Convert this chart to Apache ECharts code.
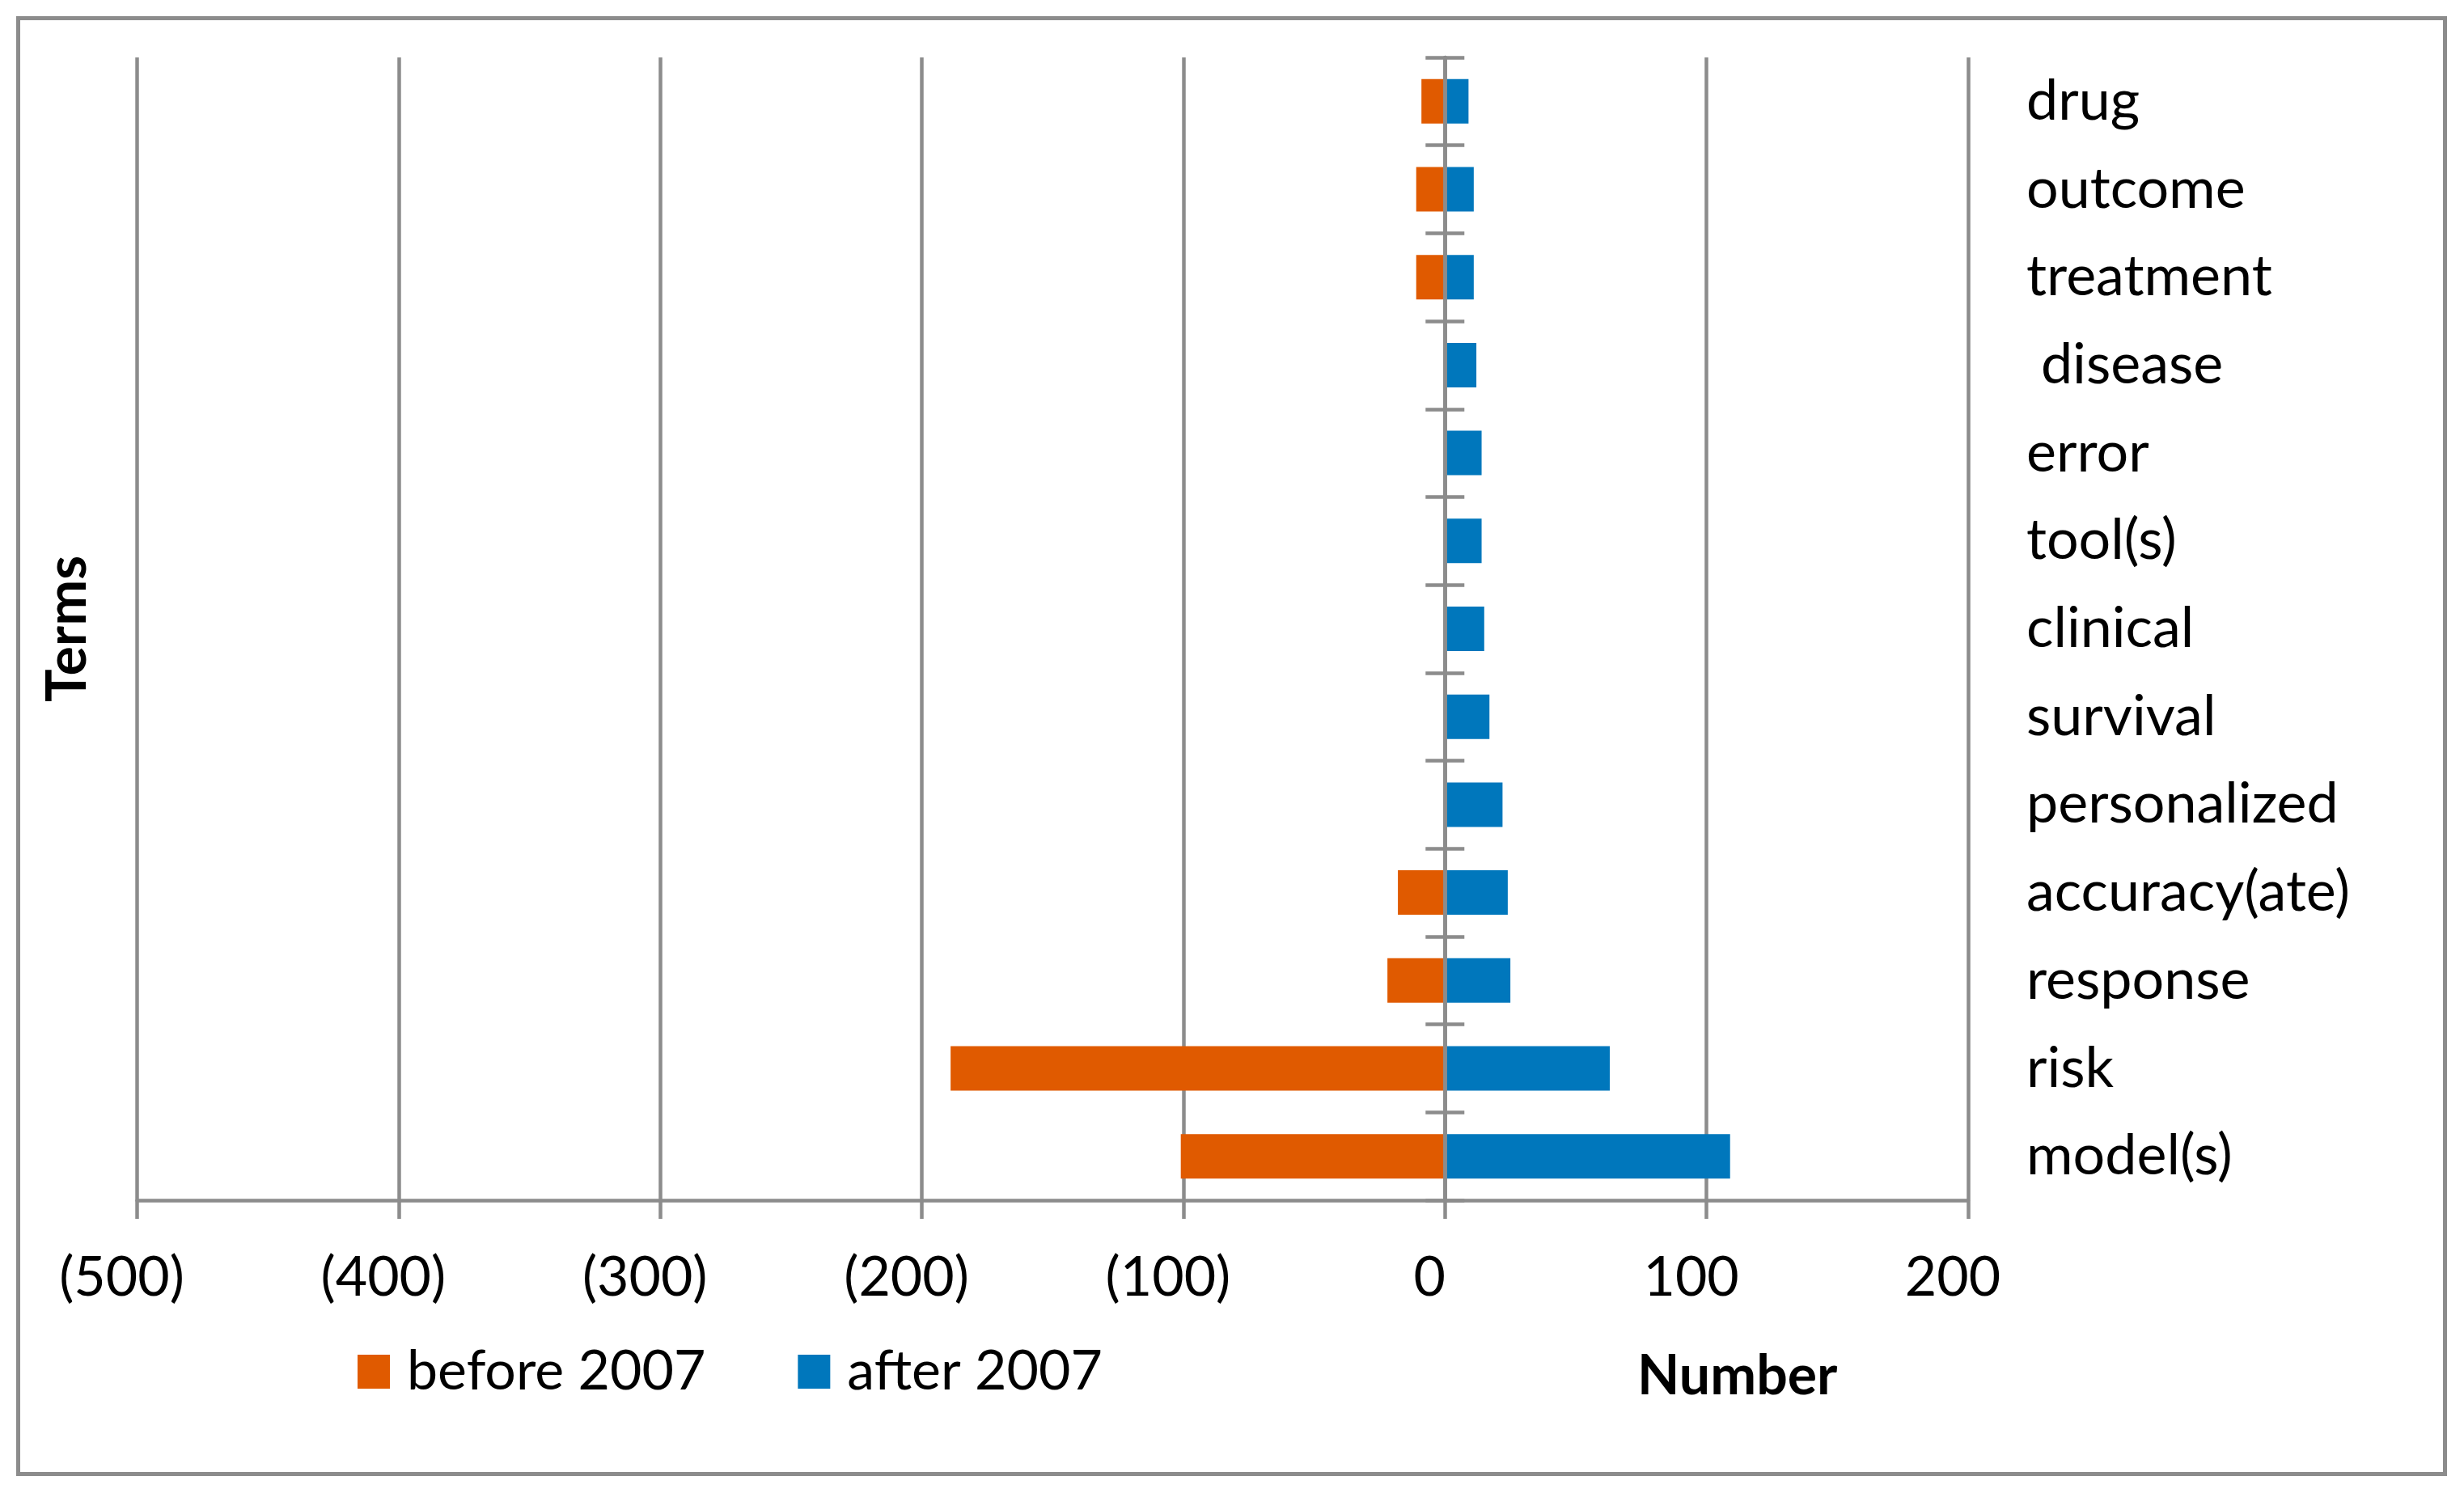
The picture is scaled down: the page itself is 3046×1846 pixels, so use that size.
<!DOCTYPE html>
<html>
<head>
<meta charset="utf-8">
<script src="https://cdn.jsdelivr.net/npm/echarts@6/dist/echarts.min.js"></script>
<style>
  html, body { margin: 0; padding: 0; background: #ffffff; }
  #chart { width: 3046px; height: 1846px; }
</style>
</head>
<body>
<div id="chart"></div>
<script>
// Terms listed top to bottom
const terms = ['drug', 'outcome', 'treatment', ' disease', 'error', 'tool(s)', 'clinical', 'survival', 'personalized', 'accuracy(ate)', 'response', 'risk', 'model(s)'];
const before2007 = [-9, -11, -11, 0, 0, 0, 0, 0, 0, -18, -22, -189, -101];
const after2007 = [9, 11, 11, 12, 14, 14, 15, 17, 22, 24, 25, 63, 109];
const xTicks = { min: -500, max: 200, step: 100 };

const GRAY = '#8c8c8c';
const FONT = 'Lato';

const chart = echarts.init(document.getElementById('chart'), null, { renderer: 'canvas' });

const gridBox = { left: 169.5, right: 613, top: 71, bottom: 362, containLabel: false };

const option = {
  backgroundColor: '#ffffff',
  animation: false,
  textStyle: { fontFamily: FONT, color: '#000' },
  graphic: [{
    type: 'rect',
    shape: { x: 22.5, y: 22.5, width: 3000, height: 1800 },
    style: { fill: 'none', stroke: GRAY, lineWidth: 5 },
    silent: true
  }],
  grid: [Object.assign({}, gridBox), Object.assign({}, gridBox)],
  legend: {
    left: 437, top: 1657,
    icon: 'rect', itemWidth: 40, itemHeight: 42, itemGap: 114,
    textStyle: { fontSize: 68, color: '#000', fontFamily: FONT, padding: [0, 0, 0, 16] },
    data: ['before 2007', 'after 2007']
  },
  xAxis: [
    {
      type: 'value', gridIndex: 0,
      min: xTicks.min, max: xTicks.max, interval: xTicks.step,
      name: 'Number',
      nameLocation: 'middle',
      nameGap: 184,
      nameTextStyle: { fontSize: 68, fontWeight: 'bold', color: '#000', fontFamily: FONT, padding: [0, 0, 0, 1693] },
      axisLine: { show: true, lineStyle: { color: GRAY, width: 4.5 } },
      axisTick: { show: true, length: 23, lineStyle: { color: GRAY, width: 4.5 } },
      splitLine: { show: true, lineStyle: { color: GRAY, width: 4.5 } },
      axisLabel: {
        fontSize: 68, color: '#000', fontFamily: FONT, margin: 62,
        padding: [0, 38, 0, 0],
        formatter: v => v < 0 ? '(' + (-v) + ')' : String(v)
      }
    },
    {
      type: 'value', gridIndex: 1,
      min: xTicks.min, max: xTicks.max, interval: xTicks.step,
      axisLine: { show: false }, axisTick: { show: false },
      axisLabel: { show: false }, splitLine: { show: false }
    }
  ],
  yAxis: [
    {
      type: 'category', gridIndex: 0, data: terms, inverse: true, position: 'left', z: 10,
      axisLine: { show: true, onZero: true, lineStyle: { color: GRAY, width: 4.5 } },
      axisTick: { show: true, length: 24, lineStyle: { color: GRAY, width: 4.5 } },
      axisLabel: { show: false }, splitLine: { show: false }
    },
    {
      type: 'category', gridIndex: 0, data: terms, inverse: true, position: 'right',
      axisLine: { show: false, onZero: false }, axisTick: { show: false },
      axisLabel: { show: true, fontSize: 70, color: '#000', fontFamily: FONT, margin: 72, align: 'left' },
      splitLine: { show: false }
    },
    {
      type: 'category', gridIndex: 0, data: terms, inverse: true, position: 'left',
      name: 'Terms', nameLocation: 'middle', nameGap: 51,
      nameTextStyle: { fontSize: 68, fontWeight: 'bold', color: '#000', fontFamily: FONT },
      axisLine: { show: false, onZero: false }, axisTick: { show: false },
      axisLabel: { show: false }, splitLine: { show: false }
    },
    {
      type: 'category', gridIndex: 1, data: terms, inverse: true, position: 'right', z: 10,
      axisLine: { show: true, onZero: true, lineStyle: { color: GRAY, width: 4.5 } },
      axisTick: { show: true, length: 24, lineStyle: { color: GRAY, width: 4.5 } },
      axisLabel: { show: false }, splitLine: { show: false }
    }
  ],
  series: [
    {
      name: 'before 2007', type: 'bar', data: before2007,
      xAxisIndex: 0, yAxisIndex: 0,
      barWidth: 55, barGap: '-100%',
      itemStyle: { color: '#E05A00' }
    },
    {
      name: 'after 2007', type: 'bar', data: after2007,
      xAxisIndex: 0, yAxisIndex: 0,
      barWidth: 55, barGap: '-100%',
      itemStyle: { color: '#0077BC' }
    }
  ]
};

chart.setOption(option);
</script>
</body>
</html>
